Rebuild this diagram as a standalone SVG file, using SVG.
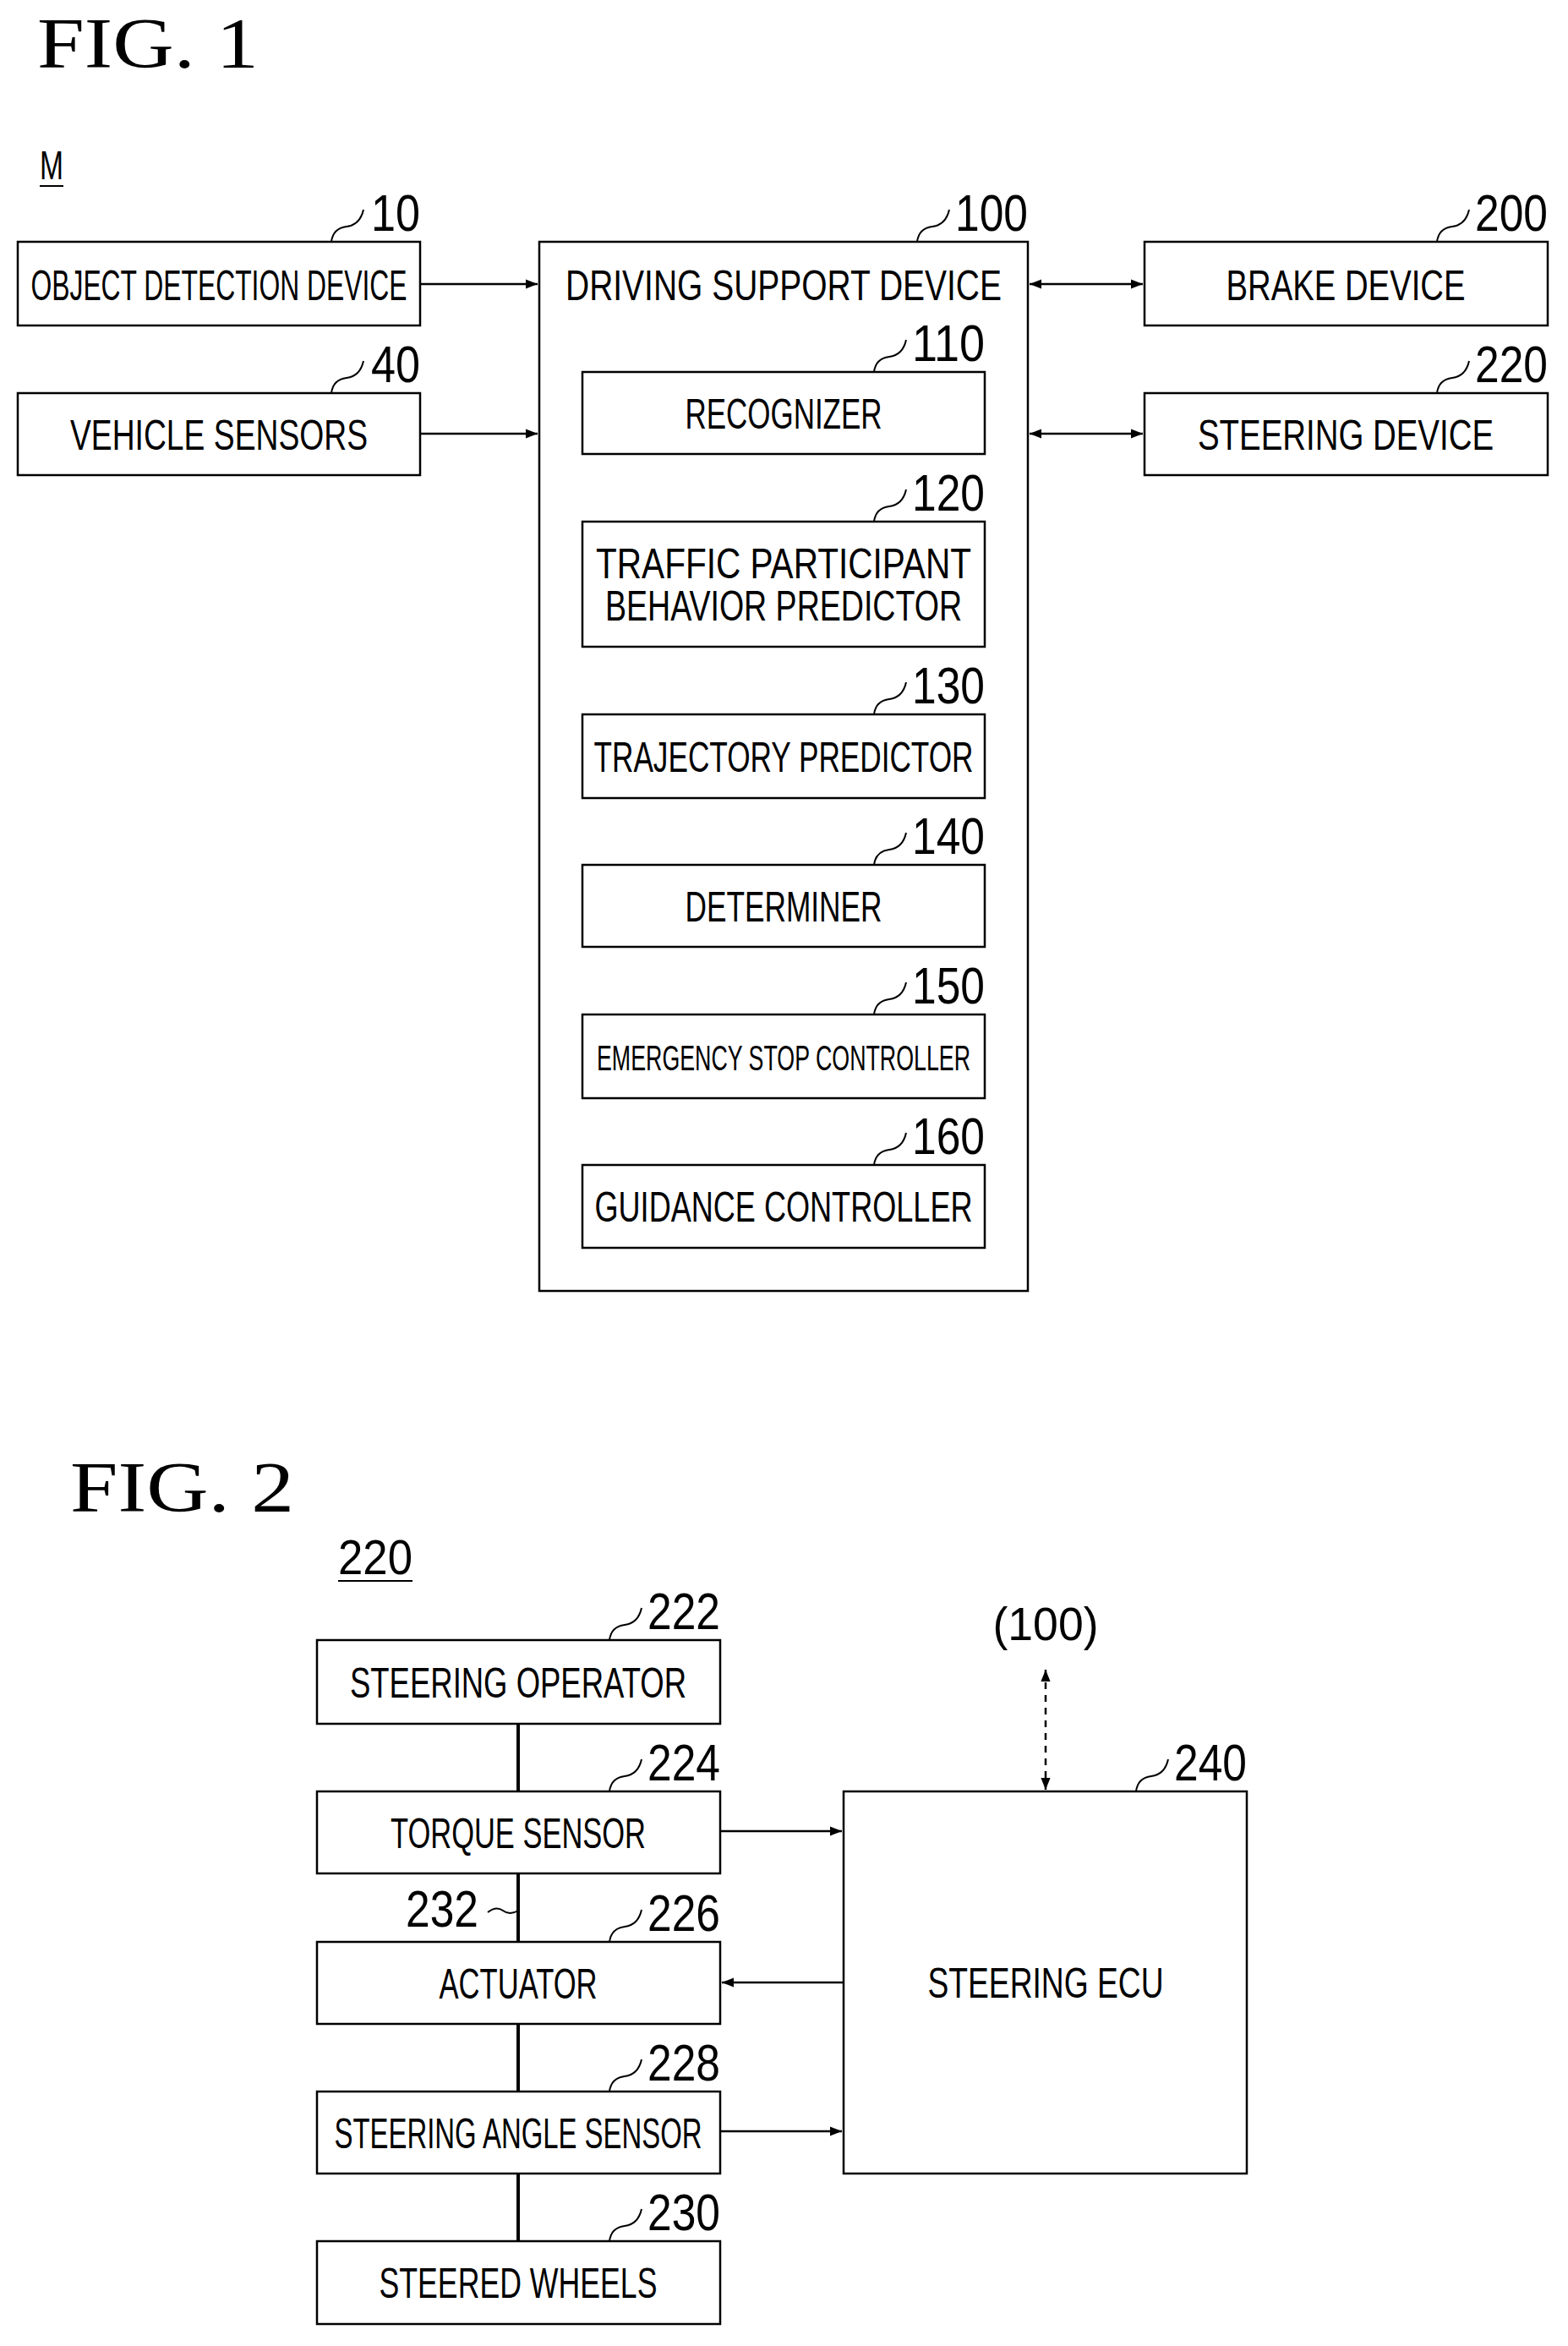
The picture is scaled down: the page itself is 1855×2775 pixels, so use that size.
<svg xmlns="http://www.w3.org/2000/svg" width="1855" height="2775" viewBox="0 0 1855 2775">
<style>
.b{fill:#fff;stroke:#000;stroke-width:2.5}
.t{font-family:"Liberation Sans",sans-serif;font-size:50px;text-anchor:middle;fill:#000}
.n{font-family:"Liberation Sans",sans-serif;font-size:62px;text-anchor:end;fill:#000}
.f{font-family:"Liberation Serif",serif;font-size:84px;fill:#000}
.l{fill:none;stroke:#000;stroke-width:2}
.c{fill:none;stroke:#000;stroke-width:2.5}
</style>
<defs>
<marker id="a" viewBox="0 0 10 10" refX="10" refY="5" markerWidth="14" markerHeight="14" markerUnits="userSpaceOnUse" orient="auto-start-reverse"><path d="M0,1 L10,5 L0,9 z" fill="#000"/></marker>
</defs>
<text class="f" x="44" y="80" textLength="262" lengthAdjust="spacingAndGlyphs">FIG.  1</text>
<text x="47" y="212" style="font-family:'Liberation Sans',sans-serif;font-size:48px" textLength="28" lengthAdjust="spacingAndGlyphs">M</text>
<line x1="47" y1="220" x2="75" y2="220" class="l"/>

<g id="n10"><rect class="b" x="21" y="286" width="476" height="99"/><text class="t" x="259" y="355" textLength="445" lengthAdjust="spacingAndGlyphs">OBJECT DETECTION DEVICE</text><path class="l" d="M392,286 q2,-16 18,-18 q16,-2 20,-20"/><text class="n" x="497" y="273" textLength="58" lengthAdjust="spacingAndGlyphs">10</text></g>
<g id="n40"><rect class="b" x="21" y="465" width="476" height="97"/><text class="t" x="259" y="532" textLength="352" lengthAdjust="spacingAndGlyphs">VEHICLE SENSORS</text><path class="l" d="M392,465 q2,-16 18,-18 q16,-2 20,-20"/><text class="n" x="497" y="452" textLength="58" lengthAdjust="spacingAndGlyphs">40</text></g>
<g id="n100"><rect class="b" x="638" y="286" width="578" height="1241"/><text class="t" x="927" y="355" textLength="516" lengthAdjust="spacingAndGlyphs">DRIVING SUPPORT DEVICE</text><path class="l" d="M1085,286 q2,-16 18,-18 q16,-2 20,-20"/><text class="n" x="1216" y="273" textLength="86" lengthAdjust="spacingAndGlyphs">100</text></g>
<g id="n200"><rect class="b" x="1354" y="286" width="477" height="99"/><text class="t" x="1592" y="355" textLength="283" lengthAdjust="spacingAndGlyphs">BRAKE DEVICE</text><path class="l" d="M1700,286 q2,-16 18,-18 q16,-2 20,-20"/><text class="n" x="1831" y="273" textLength="86" lengthAdjust="spacingAndGlyphs">200</text></g>
<g id="n220"><rect class="b" x="1354" y="465" width="477" height="97"/><text class="t" x="1592" y="532" textLength="350" lengthAdjust="spacingAndGlyphs">STEERING DEVICE</text><path class="l" d="M1700,465 q2,-16 18,-18 q16,-2 20,-20"/><text class="n" x="1831" y="452" textLength="86" lengthAdjust="spacingAndGlyphs">220</text></g>

<g id="n110"><rect class="b" x="689" y="440" width="476" height="97"/><text class="t" x="927" y="507" textLength="233" lengthAdjust="spacingAndGlyphs">RECOGNIZER</text><path class="l" d="M1034,440 q2,-16 18,-18 q16,-2 20,-20"/><text class="n" x="1165" y="427" textLength="86" lengthAdjust="spacingAndGlyphs">110</text></g>
<g id="n120"><rect class="b" x="689" y="617" width="476" height="148"/><text class="t" x="927" y="684" textLength="444" lengthAdjust="spacingAndGlyphs">TRAFFIC PARTICIPANT</text><text class="t" x="927" y="734" textLength="422" lengthAdjust="spacingAndGlyphs">BEHAVIOR PREDICTOR</text><path class="l" d="M1034,617 q2,-16 18,-18 q16,-2 20,-20"/><text class="n" x="1165" y="604" textLength="86" lengthAdjust="spacingAndGlyphs">120</text></g>
<g id="n130"><rect class="b" x="689" y="845" width="476" height="99"/><text class="t" x="927" y="913" textLength="449" lengthAdjust="spacingAndGlyphs">TRAJECTORY PREDICTOR</text><path class="l" d="M1034,845 q2,-16 18,-18 q16,-2 20,-20"/><text class="n" x="1165" y="832" textLength="86" lengthAdjust="spacingAndGlyphs">130</text></g>
<g id="n140"><rect class="b" x="689" y="1023" width="476" height="97"/><text class="t" x="927" y="1090" textLength="233" lengthAdjust="spacingAndGlyphs">DETERMINER</text><path class="l" d="M1034,1023 q2,-16 18,-18 q16,-2 20,-20"/><text class="n" x="1165" y="1010" textLength="86" lengthAdjust="spacingAndGlyphs">140</text></g>
<g id="n150"><rect class="b" x="689" y="1200" width="476" height="99"/><text class="t" x="927" y="1266" style="font-size:42px" textLength="442" lengthAdjust="spacingAndGlyphs">EMERGENCY STOP CONTROLLER</text><path class="l" d="M1034,1200 q2,-16 18,-18 q16,-2 20,-20"/><text class="n" x="1165" y="1187" textLength="86" lengthAdjust="spacingAndGlyphs">150</text></g>
<g id="n160"><rect class="b" x="689" y="1378" width="476" height="98"/><text class="t" x="927" y="1445" textLength="447" lengthAdjust="spacingAndGlyphs">GUIDANCE CONTROLLER</text><path class="l" d="M1034,1378 q2,-16 18,-18 q16,-2 20,-20"/><text class="n" x="1165" y="1365" textLength="86" lengthAdjust="spacingAndGlyphs">160</text></g>

<text class="f" x="83" y="1788" textLength="265" lengthAdjust="spacingAndGlyphs">FIG.  2</text>
<text x="400" y="1862" style="font-family:'Liberation Sans',sans-serif;font-size:58px" textLength="88" lengthAdjust="spacingAndGlyphs">220</text>
<line x1="400" y1="1870" x2="488" y2="1870" class="l"/>

<g id="n222"><rect class="b" x="375" y="1940" width="477" height="99"/><text class="t" x="613" y="2008" textLength="398" lengthAdjust="spacingAndGlyphs">STEERING OPERATOR</text><path class="l" d="M721,1940 q2,-16 18,-18 q16,-2 20,-20"/><text class="n" x="852" y="1927" textLength="86" lengthAdjust="spacingAndGlyphs">222</text></g>
<g id="n224"><rect class="b" x="375" y="2119" width="477" height="97"/><text class="t" x="613" y="2186" textLength="302" lengthAdjust="spacingAndGlyphs">TORQUE SENSOR</text><path class="l" d="M721,2119 q2,-16 18,-18 q16,-2 20,-20"/><text class="n" x="852" y="2106" textLength="86" lengthAdjust="spacingAndGlyphs">224</text></g>
<g id="n226"><rect class="b" x="375" y="2297" width="477" height="97"/><text class="t" x="613" y="2364" textLength="187" lengthAdjust="spacingAndGlyphs">ACTUATOR</text><path class="l" d="M721,2297 q2,-16 18,-18 q16,-2 20,-20"/><text class="n" x="852" y="2284" textLength="86" lengthAdjust="spacingAndGlyphs">226</text></g>
<g id="n228"><rect class="b" x="375" y="2474" width="477" height="97"/><text class="t" x="613" y="2541" textLength="435" lengthAdjust="spacingAndGlyphs">STEERING ANGLE SENSOR</text><path class="l" d="M721,2474 q2,-16 18,-18 q16,-2 20,-20"/><text class="n" x="852" y="2461" textLength="86" lengthAdjust="spacingAndGlyphs">228</text></g>
<g id="n230"><rect class="b" x="375" y="2651" width="477" height="98"/><text class="t" x="613" y="2718" textLength="329" lengthAdjust="spacingAndGlyphs">STEERED WHEELS</text><path class="l" d="M721,2651 q2,-16 18,-18 q16,-2 20,-20"/><text class="n" x="852" y="2638" textLength="86" lengthAdjust="spacingAndGlyphs">230</text></g>
<g id="n240"><rect class="b" x="998" y="2119" width="477" height="452"/><text class="t" x="1237" y="2363" textLength="279" lengthAdjust="spacingAndGlyphs">STEERING ECU</text><path class="l" d="M1344,2119 q2,-16 18,-18 q16,-2 20,-20"/><text class="n" x="1475" y="2106" textLength="86" lengthAdjust="spacingAndGlyphs">240</text></g>
<g id="n100ref"><text x="1237" y="1940" style="font-family:'Liberation Sans',sans-serif;font-size:56px;text-anchor:middle" textLength="125" lengthAdjust="spacingAndGlyphs">(100)</text></g>

<g id="connectors">
<line class="c" x1="497" y1="336" x2="636" y2="336" marker-end="url(#a)"/>
<line class="c" x1="497" y1="513" x2="636" y2="513" marker-end="url(#a)"/>
<line class="c" x1="1218" y1="336" x2="1352" y2="336" marker-start="url(#a)" marker-end="url(#a)"/>
<line class="c" x1="1218" y1="513" x2="1352" y2="513" marker-start="url(#a)" marker-end="url(#a)"/>
<line class="c" x1="613" y1="2039" x2="613" y2="2119" style="stroke-width:4"/>
<line class="c" x1="613" y1="2216" x2="613" y2="2297" style="stroke-width:4"/>
<line class="c" x1="613" y1="2394" x2="613" y2="2474" style="stroke-width:4"/>
<line class="c" x1="613" y1="2571" x2="613" y2="2651" style="stroke-width:4"/>
<path class="l" d="M577,2262 q10,-8 18,-2 q8,6 18,0"/>
<text class="n" x="566" y="2279" textLength="86" lengthAdjust="spacingAndGlyphs">232</text>
<line class="c" x1="852" y1="2166" x2="996" y2="2166" marker-end="url(#a)"/>
<line class="c" x1="998" y1="2345" x2="854" y2="2345" marker-end="url(#a)"/>
<line class="c" x1="852" y1="2521" x2="996" y2="2521" marker-end="url(#a)"/>
<line class="c" x1="1237" y1="1975" x2="1237" y2="2117" stroke-dasharray="8,7" marker-start="url(#a)" marker-end="url(#a)"/>
</g>
</svg>
